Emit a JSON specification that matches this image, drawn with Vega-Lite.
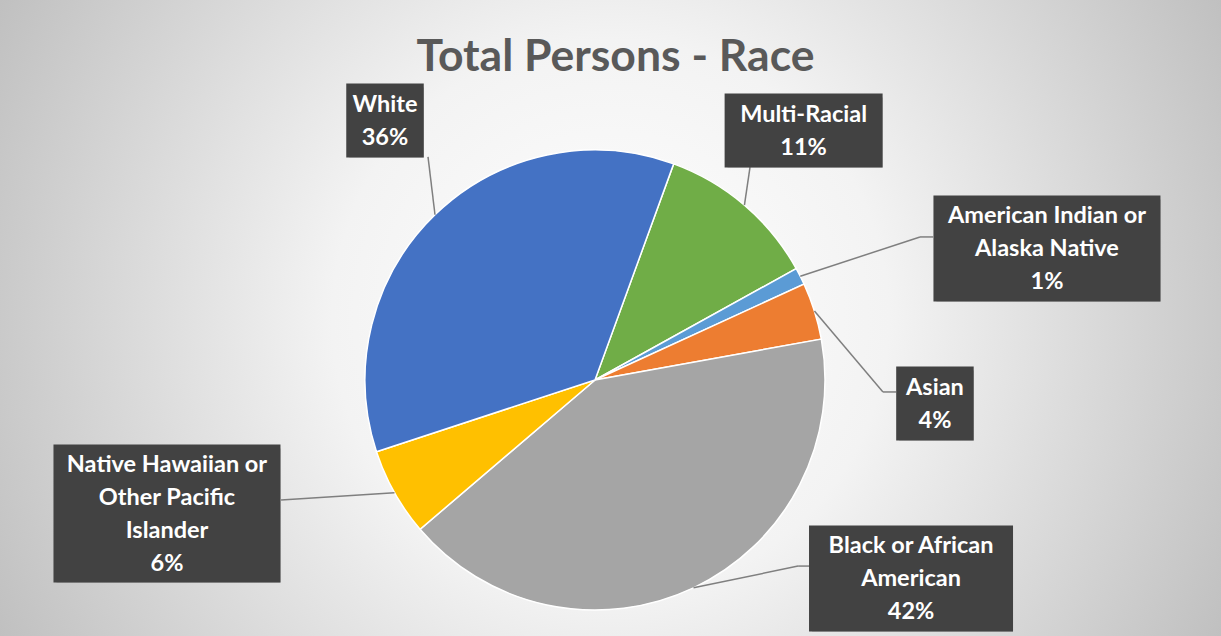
{
  "$schema": "https://vega.github.io/schema/vega-lite/v6.json",
  "width": 1221,
  "height": 636,
  "autosize": {"type": "none"},
  "padding": 0,
  "background": "#d0d0d0",
  "config": {"view": {"stroke": null}},
  "title": {
    "text": "Total Persons - Race",
    "font": "Lato",
    "fontSize": 44.5,
    "fontWeight": "bold",
    "color": "#595959",
    "anchor": "middle",
    "offset": -80,
    "dx": 5
  },
  "data": {
    "values": [
      {"order": 1, "category": "Multi-Racial", "label": "Multi-Racial", "share": 11.4},
      {"order": 2, "category": "American Indian or Alaska Native", "label": "American Indian or\nAlaska Native", "share": 1.2},
      {"order": 3, "category": "Asian", "label": "Asian", "share": 4.0},
      {"order": 4, "category": "Black or African American", "label": "Black or African\nAmerican", "share": 41.6},
      {"order": 5, "category": "Native Hawaiian or Other Pacific Islander", "label": "Native Hawaiian or\nOther Pacific\nIslander", "share": 6.2},
      {"order": 6, "category": "White", "label": "White", "share": 35.6}
    ]
  },
  "transform": [
    {"window": [{"op": "sum", "field": "share", "as": "cum"}], "sort": [{"field": "order"}], "frame": [null, 0]},
    {"calculate": "(20 + 3.6 * (datum.cum - datum.share / 2)) * PI / 180", "as": "mid"},
    {"calculate": "sin(datum.mid)", "as": "ax"},
    {"calculate": "-cos(datum.mid)", "as": "ay"},
    {"calculate": "[0.907, 1.965, 1.478, 1.374, -1.861, -0.913][datum.order - 1]", "as": "cx"},
    {"calculate": "[-1.085, -0.572, 0.102, 0.863, 0.580, -1.128][datum.order - 1]", "as": "cy"},
    {"calculate": "[0.674, 1.413, 1.252, 0.883, -1.365, -0.726][datum.order - 1]", "as": "ex"},
    {"calculate": "[-0.926, -0.622, 0.052, 0.809, 0.522, -0.970][datum.order - 1]", "as": "ey"},
    {"calculate": "[0.674, 1.470, 1.309, 0.939, -1.365, -0.726][datum.order - 1]", "as": "tx"},
    {"calculate": "datum.label + '\\n' + format(datum.share, '.0f') + '%'", "as": "text"},
    {"calculate": "length(split(datum.text, '\\n'))", "as": "lines"},
    {"calculate": "(11.5 * length(split(datum.label, '\\n')[0]) + 20) / 230", "as": "bw"},
    {"calculate": "(32 * datum.lines + 10) / 230", "as": "bh"},
    {"calculate": "datum.cx - datum.bw / 2", "as": "bx1"},
    {"calculate": "datum.cx + datum.bw / 2", "as": "bx2"},
    {"calculate": "datum.cy - datum.bh / 2", "as": "by1"},
    {"calculate": "datum.cy + datum.bh / 2", "as": "by2"},
    {"calculate": "datum.cy - (datum.lines - 1) * 16.5 / 230", "as": "ty"}
  ],
  "layer": [
    {
      "data": {"values": [{}]},
      "mark": {
        "type": "rect",
        "color": {
          "gradient": "radial",
          "x1": 0.5, "y1": 0.5, "x2": 0.5, "y2": 0.5, "r1": 0, "r2": 0.57,
          "stops": [
            {"offset": 0, "color": "#ffffff"},
            {"offset": 0.4, "color": "#f3f3f3"},
            {"offset": 1, "color": "#bfbfbf"}
          ]
        }
      },
      "encoding": {
        "x": {"value": 0},
        "x2": {"value": "width"},
        "y": {"value": 0},
        "y2": {"value": "height"}
      }
    },
    {
      "mark": {"type": "arc", "outerRadius": 230, "stroke": "#ffffff", "strokeWidth": 1.5},
      "encoding": {
        "theta": {"field": "share", "type": "quantitative", "stack": true, "scale": {"range": [0.34907, 6.63225]}},
        "order": {"field": "order", "type": "quantitative"},
        "color": {
          "field": "category",
          "type": "nominal",
          "legend": null,
          "scale": {
            "domain": ["Multi-Racial", "American Indian or Alaska Native", "Asian", "Black or African American", "Native Hawaiian or Other Pacific Islander", "White"],
            "range": ["#70ad47", "#5b9bd5", "#ed7d31", "#a5a5a5", "#ffc000", "#4472c4"]
          }
        },
        "x": {"datum": 0, "type": "quantitative", "axis": null, "scale": {"domain": [-2.58696, 2.72174], "nice": false, "zero": false}},
        "y": {"datum": 0, "type": "quantitative", "axis": null, "scale": {"domain": [-1.65217, 1.11304], "nice": false, "zero": false, "reverse": true}}
      }
    },
    {
      "mark": {"type": "rule", "color": "#7f7f7f", "strokeWidth": 1.5},
      "encoding": {
        "x": {"field": "ax", "type": "quantitative"},
        "y": {"field": "ay", "type": "quantitative"},
        "x2": {"field": "ex"},
        "y2": {"field": "ey"}
      }
    },
    {
      "mark": {"type": "rule", "color": "#7f7f7f", "strokeWidth": 1.5},
      "encoding": {
        "x": {"field": "ex", "type": "quantitative"},
        "y": {"field": "ey", "type": "quantitative"},
        "x2": {"field": "tx"},
        "y2": {"field": "ey"}
      }
    },
    {
      "mark": {"type": "rect", "color": "#000000", "opacity": 0.28, "xOffset": 3, "yOffset": 4},
      "encoding": {
        "x": {"field": "bx1", "type": "quantitative"},
        "x2": {"field": "bx2"},
        "y": {"field": "by1", "type": "quantitative"},
        "y2": {"field": "by2"}
      }
    },
    {
      "mark": {"type": "rect", "color": "#424242"},
      "encoding": {
        "x": {"field": "bx1", "type": "quantitative"},
        "x2": {"field": "bx2"},
        "y": {"field": "by1", "type": "quantitative"},
        "y2": {"field": "by2"}
      }
    },
    {
      "mark": {"type": "text", "color": "#ffffff", "font": "Lato", "fontWeight": "bold", "fontSize": 23.5, "lineHeight": 33, "lineBreak": "\n", "align": "center", "baseline": "middle", "dy": 1},
      "encoding": {
        "x": {"field": "cx", "type": "quantitative"},
        "y": {"field": "ty", "type": "quantitative"},
        "text": {"field": "text", "type": "nominal"}
      }
    }
  ]
}
